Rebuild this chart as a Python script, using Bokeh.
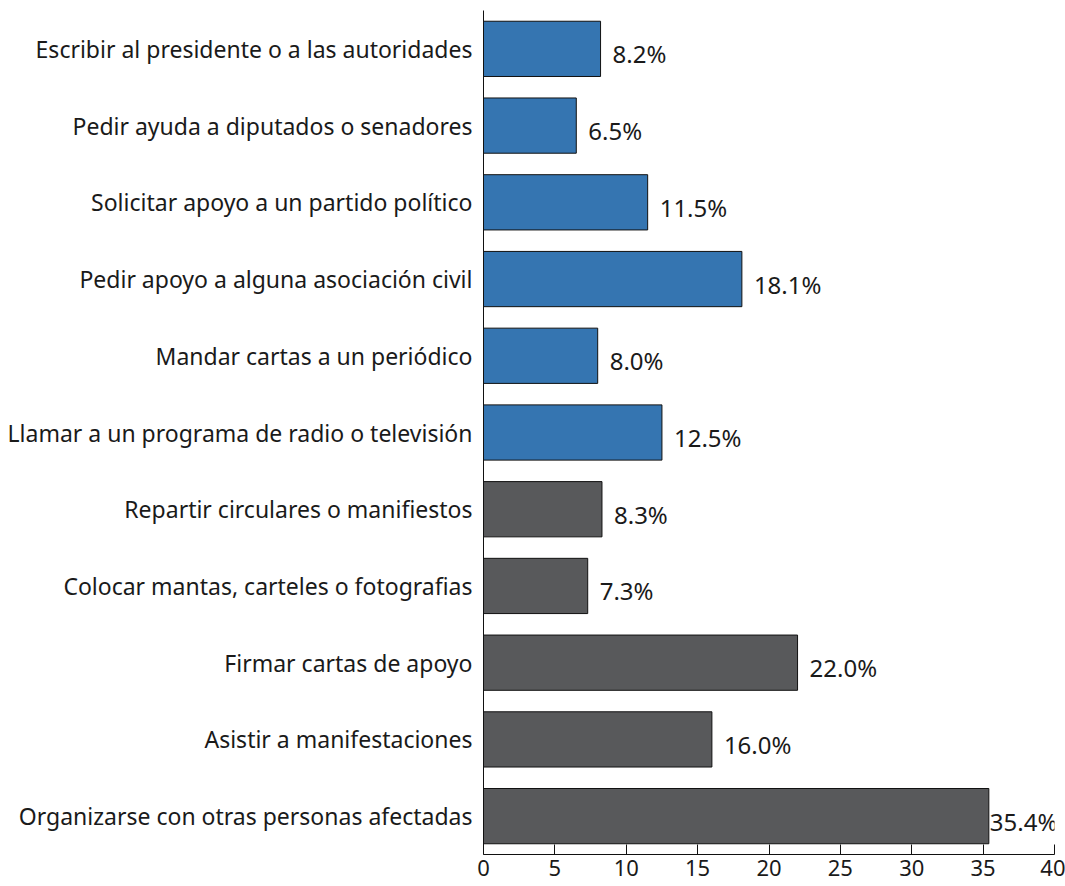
from bokeh.plotting import figure
from bokeh.models import ColumnDataSource, FactorRange, FixedTicker, LabelSet
from bokeh.core.properties import value
from bokeh.embed import file_html
from bokeh.resources import INLINE

categories = [
    "Escribir al presidente o a las autoridades",
    "Pedir ayuda a diputados o senadores",
    "Solicitar apoyo a un partido político",
    "Pedir apoyo a alguna asociación civil",
    "Mandar cartas a un periódico",
    "Llamar a un programa de radio o televisión",
    "Repartir circulares o manifiestos",
    "Colocar mantas, carteles o fotografias",
    "Firmar cartas de apoyo",
    "Asistir a manifestaciones",
    "Organizarse con otras personas afectadas",
]
values = [8.2, 6.5, 11.5, 18.1, 8.0, 12.5, 8.3, 7.3, 22.0, 16.0, 35.4]
groups = ["a", "a", "a", "a", "a", "a", "b", "b", "b", "b", "b"]
x_ticks = [0, 5, 10, 15, 20, 25, 30, 35, 40]

group_colors = {"a": "#3575B1", "b": "#58595B"}
FONT = "Noto Sans"
vmax = max(values)

src = ColumnDataSource(dict(
    cat=categories,
    val=values,
    color=[group_colors[g] for g in groups],
    label=[f"{v:.1f}%" for v in values],
    xoff=[1 if v == vmax else 12 for v in values],
))

p = figure(
    width=1065, height=886,
    y_range=FactorRange(*reversed(categories)),
    x_range=(0, 40),
    output_backend="svg", toolbar_location=None,
    min_border_left=483, min_border_right=11,
    min_border_top=10, min_border_bottom=0,
)
p.hbar(y="cat", right="val", left=0, height=0.72, source=src,
       fill_color="color", line_color="#111111", line_width=1)

labels = LabelSet(x="val", y="cat", text="label", source=src,
                  x_offset="xoff", y_offset=-5,
                  text_align="left", text_baseline="middle",
                  text_font=value(FONT), text_font_size="24px",
                  text_color="#1a1a1a")
p.add_layout(labels)

p.grid.visible = False
p.outline_line_color = None
p.background_fill_color = "white"

p.xaxis.ticker = FixedTicker(ticks=x_ticks)
p.xaxis.axis_label = " "
p.xaxis.axis_label_text_font_size = "4px"
p.xaxis.axis_label_standoff = 0
p.xaxis.major_tick_in = 10
p.xaxis.major_tick_out = 0
p.xaxis.minor_tick_line_color = None
p.xaxis.major_label_standoff = 5
p.xaxis.major_label_text_font = FONT
p.xaxis.major_label_text_font_size = "22px"
p.xaxis.major_label_text_color = "#1a1a1a"
p.xaxis.axis_line_color = "#111111"
p.xaxis.major_tick_line_color = "#111111"

p.yaxis.major_tick_in = 0
p.yaxis.major_tick_out = 0
p.yaxis.minor_tick_line_color = None
p.yaxis.major_label_standoff = 11
p.yaxis.major_label_text_font = FONT
p.yaxis.major_label_text_font_size = "23px"
p.yaxis.major_label_text_color = "#1a1a1a"
p.yaxis.axis_line_color = "#111111"

open("out.html", "w").write(file_html(p, INLINE))
